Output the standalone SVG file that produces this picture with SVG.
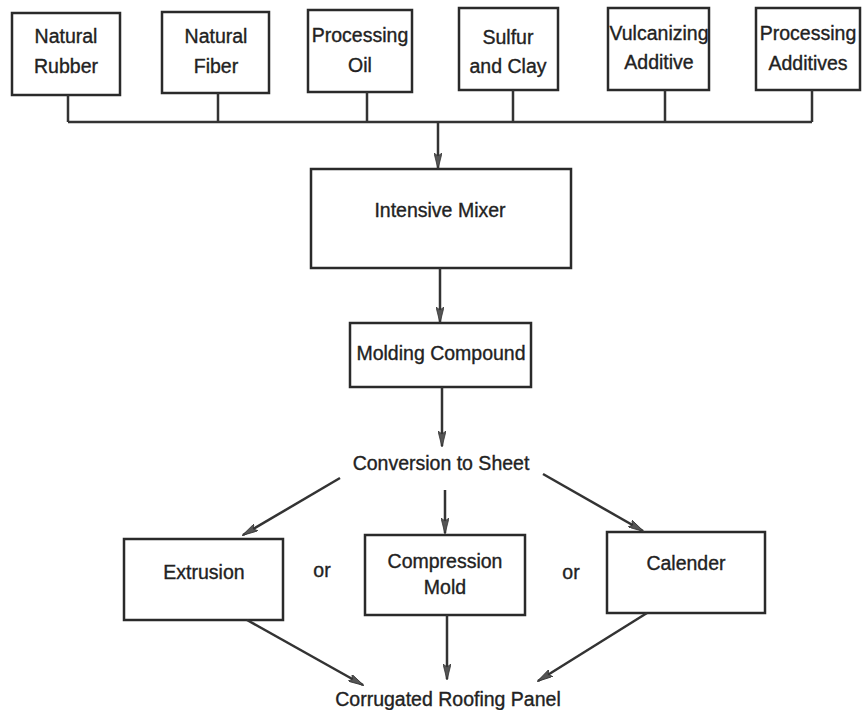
<svg xmlns="http://www.w3.org/2000/svg" width="865" height="710" viewBox="0 0 865 710">
  <style>
    .box { fill: #ffffff; stroke: #2a2a2a; stroke-width: 2.5; }
    .lbl { font-family: "Liberation Sans", Arial, sans-serif; font-size: 19.5px; fill: #222222; stroke: #222222; stroke-width: 0.35; text-anchor: middle; }
    .line { fill: none; stroke: #333333; stroke-width: 2.5; }
    .arrow { fill: none; stroke: #333333; stroke-width: 2.5; marker-end: url(#head); }
  </style>
  <defs>
    <marker id="head" viewBox="0 0 16 8" refX="15" refY="4" markerWidth="16" markerHeight="8" markerUnits="userSpaceOnUse" orient="auto">
      <path d="M0,0 L16,4 L0,8 L3,4 Z" fill="#555555" stroke="#333333" stroke-width="0.8"/>
    </marker>
  </defs>
  <rect width="865" height="710" fill="#ffffff"/>

  <!-- raw material inputs -->
  <g id="natural-rubber">
    <rect class="box" x="12" y="13" width="108" height="82"/>
    <text class="lbl" x="66" y="43">Natural</text>
    <text class="lbl" x="66" y="73">Rubber</text>
  </g>
  <g id="natural-fiber">
    <rect class="box" x="162" y="12" width="107" height="81"/>
    <text class="lbl" x="216" y="43">Natural</text>
    <text class="lbl" x="216" y="73">Fiber</text>
  </g>
  <g id="processing-oil">
    <rect class="box" x="308" y="10" width="104" height="82"/>
    <text class="lbl" x="360" y="42">Processing</text>
    <text class="lbl" x="360" y="72">Oil</text>
  </g>
  <g id="sulfur-clay">
    <rect class="box" x="459" y="8" width="99" height="82"/>
    <text class="lbl" x="508" y="44">Sulfur</text>
    <text class="lbl" x="508" y="73">and Clay</text>
  </g>
  <g id="vulcanizing-additive">
    <rect class="box" x="608" y="8" width="101" height="82"/>
    <text class="lbl" x="659" y="40">Vulcanizing</text>
    <text class="lbl" x="659" y="69">Additive</text>
  </g>
  <g id="processing-additives">
    <rect class="box" x="756" y="8" width="104" height="82"/>
    <text class="lbl" x="808" y="40">Processing</text>
    <text class="lbl" x="808" y="70">Additives</text>
  </g>

  <!-- mixing and compounding -->
  <g id="intensive-mixer">
    <rect class="box" x="311" y="169" width="260" height="99"/>
    <text class="lbl" x="440" y="217">Intensive Mixer</text>
  </g>
  <g id="molding-compound">
    <rect class="box" x="350" y="323" width="181" height="64"/>
    <text class="lbl" x="441" y="360">Molding Compound</text>
  </g>
  <g id="conversion-to-sheet">
    <text class="lbl" x="441" y="470">Conversion to Sheet</text>
  </g>

  <!-- sheet forming options -->
  <g id="extrusion">
    <rect class="box" x="124" y="539" width="159" height="81"/>
    <text class="lbl" x="204" y="579">Extrusion</text>
  </g>
  <g id="or-left">
    <text class="lbl" x="322" y="577">or</text>
  </g>
  <g id="compression-mold">
    <rect class="box" x="365" y="535" width="160" height="80"/>
    <text class="lbl" x="445" y="568">Compression</text>
    <text class="lbl" x="445" y="594">Mold</text>
  </g>
  <g id="or-right">
    <text class="lbl" x="571" y="579">or</text>
  </g>
  <g id="calender">
    <rect class="box" x="607" y="532" width="158" height="81"/>
    <text class="lbl" x="686" y="570">Calender</text>
  </g>

  <g id="corrugated-roofing-panel">
    <text class="lbl" x="448" y="706" font-size="20">Corrugated Roofing Panel</text>
  </g>

  <g id="connectors">
    <!-- collector bus from the inputs -->
    <path class="line" d="M68,95 V122 M218,93 V122 M367,92 V122 M513,90 V122 M665,90 V122 M812,90 V122 M68,122 H812"/>
    <path class="arrow" d="M438,122 V168"/>
    <path class="arrow" d="M440,268 V322"/>
    <path class="arrow" d="M442,387 V446"/>
    <!-- to the forming methods -->
    <path class="arrow" d="M340,478 L243,535"/>
    <path class="arrow" d="M445,490 V533"/>
    <path class="arrow" d="M543,474 L643,531"/>
    <!-- to the finished panel -->
    <path class="arrow" d="M247,620 L363,685"/>
    <path class="arrow" d="M447,615 V679"/>
    <path class="arrow" d="M647,613 L538,681"/>
  </g>
</svg>
